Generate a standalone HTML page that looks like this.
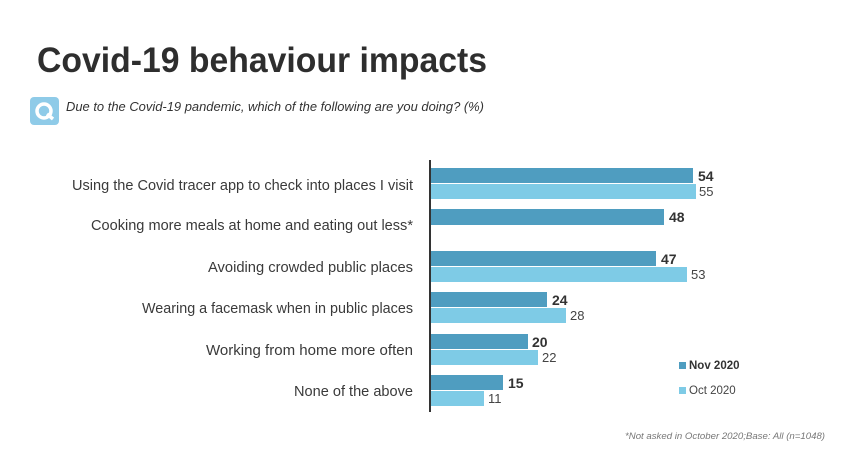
<!DOCTYPE html>
<html><head><meta charset="utf-8"><style>
html,body{margin:0;padding:0;background:#fff;}
svg{display:block;font-family:"Liberation Sans",sans-serif;}
</style></head><body>
<svg width="850" height="476" viewBox="0 0 850 476" xmlns="http://www.w3.org/2000/svg">
<rect width="850" height="476" fill="#fff"/>
<text x="37" y="72" font-size="35" font-weight="bold" fill="#2e2e2e" textLength="450" lengthAdjust="spacingAndGlyphs">Covid-19 behaviour impacts</text>
<rect x="30" y="97" width="29" height="28" rx="4" fill="#8fcbe8"/>
<circle cx="44" cy="111" r="7" fill="none" stroke="#fff" stroke-width="3.5"/>
<path d="M47 114 L53 119" stroke="#fff" stroke-width="3.5"/>
<text x="66" y="111" font-size="13" font-style="italic" fill="#333" textLength="418" lengthAdjust="spacingAndGlyphs">Due to the Covid-19 pandemic, which of the following are you doing? (%)</text>
<g font-size="14.5" fill="#3a3a3a" text-anchor="end">
<text x="413" y="190" textLength="341" lengthAdjust="spacingAndGlyphs">Using the Covid tracer app to check into places I visit</text>
<text x="413" y="230" textLength="322" lengthAdjust="spacingAndGlyphs">Cooking more meals at home and eating out less*</text>
<text x="413" y="272" textLength="205" lengthAdjust="spacingAndGlyphs">Avoiding crowded public places</text>
<text x="413" y="313" textLength="271" lengthAdjust="spacingAndGlyphs">Wearing a facemask when in public places</text>
<text x="413" y="355" textLength="207" lengthAdjust="spacingAndGlyphs">Working from home more often</text>
<text x="413" y="396" textLength="119" lengthAdjust="spacingAndGlyphs">None of the above</text>
</g>
<g fill="#4f9dc0">
<rect x="431" y="168" width="262" height="15"/>
<rect x="431" y="209" width="233" height="16"/>
<rect x="431" y="251" width="225" height="15"/>
<rect x="431" y="292" width="116" height="15"/>
<rect x="431" y="334" width="97" height="15"/>
<rect x="431" y="375" width="72" height="15"/>
</g>
<g fill="#7ecbe6">
<rect x="431" y="184" width="265" height="15"/>
<rect x="431" y="267" width="256" height="15"/>
<rect x="431" y="308" width="135" height="15"/>
<rect x="431" y="350" width="107" height="15"/>
<rect x="431" y="391" width="53" height="15"/>
</g>
<line x1="430" y1="160" x2="430" y2="412" stroke="#333" stroke-width="2"/>
<g font-size="14" font-weight="bold" fill="#333">
<text x="698" y="181">54</text>
<text x="669" y="222">48</text>
<text x="661" y="264">47</text>
<text x="552" y="305">24</text>
<text x="532" y="347">20</text>
<text x="508" y="388">15</text>
</g>
<g font-size="13" fill="#444">
<text x="699" y="196">55</text>
<text x="691" y="279">53</text>
<text x="570" y="320">28</text>
<text x="542" y="362">22</text>
<text x="488" y="403">11</text>
</g>
<rect x="679" y="362" width="7" height="7" fill="#4f9dc0"/>
<text x="689" y="369" font-size="11.5" font-weight="bold" fill="#333">Nov 2020</text>
<rect x="679" y="387" width="7" height="7" fill="#7ecbe6"/>
<text x="689" y="394" font-size="11.5" fill="#444">Oct 2020</text>
<text x="625" y="439" font-size="9.5" font-style="italic" fill="#777" textLength="200" lengthAdjust="spacingAndGlyphs">*Not asked in October 2020;Base: All (n=1048)</text>
</svg>
</body></html>
